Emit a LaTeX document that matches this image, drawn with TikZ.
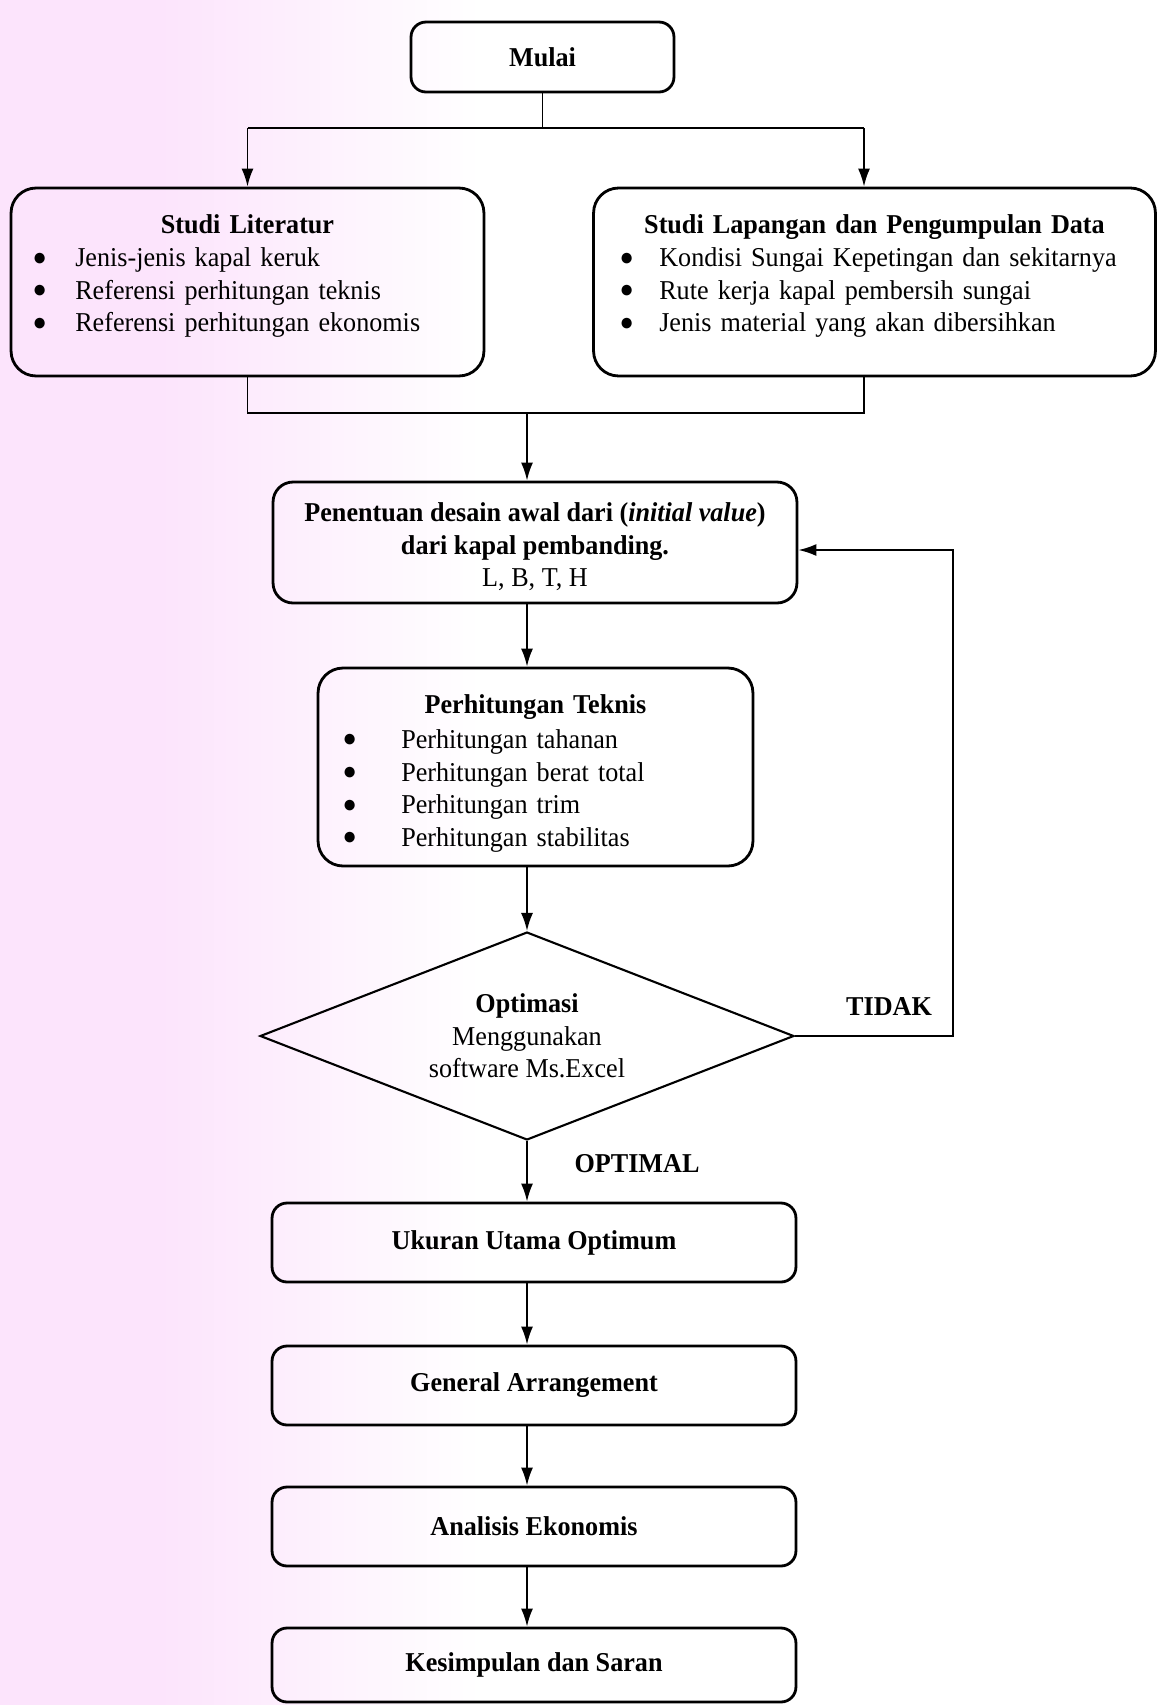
\documentclass[tikz,border=0pt]{standalone}
\usepackage{fontspec}
\setmainfont{Liberation Serif}[FakeStretch=0.96]
\usetikzlibrary{shapes.geometric,arrows.meta}
\definecolor{pinkbg}{RGB}{252,228,252}
\newcommand{\judul}[1]{\makebox[\linewidth]{\bfseries #1}}
\newcommand{\butir}[3]{\hspace*{#1}{\fontsize{14}{14}\selectfont\raisebox{0.06em}{●}}\hspace{#2}#3}
\begin{document}
\begin{tikzpicture}[x=0.02cm, y=-0.02cm, line width=1.1pt,
	font=\fontsize{15.5}{18.6}\selectfont,
	kotak/.style={draw, line width=1.6pt, rounded corners=0.3cm, inner sep=0pt, align=center, minimum width=10.48cm, minimum height=1.58cm},
	kotakbesar/.style={kotak, rounded corners=0.5cm, align=left, minimum width=0pt},
	putusan/.style={draw, diamond, line width=1.2pt, inner sep=0pt, aspect=2.57, minimum width=10.68cm, minimum height=4.16cm, align=center},
	panah/.style={-{Latex[length=0.36cm, width=0.24cm]}},
	keterangan/.style={font=\fontsize{15.5}{18.6}\selectfont\bfseries}]
	\useasboundingbox (0,0) rectangle (1158,1705);
	\fill[white] (0,0) rectangle (1158,1705);
	\fill[pinkbg] (0,0) rectangle (160,1705);
	\shade[left color=pinkbg, right color=white] (160,0) rectangle (480,1705);

	\node[kotak, minimum width=5.26cm, minimum height=1.4cm] (mulai) at (542.5,57) {\textbf{Mulai}};
	\node[kotakbesar, text width=9.46cm, minimum height=3.76cm] (lit) at (247.5,282) {\judul{Studi Literatur}\\
		\butir{0.43cm}{0.57cm}{Jenis-jenis kapal keruk}\\
		\butir{0.43cm}{0.57cm}{Referensi perhitungan teknis}\\
		\butir{0.43cm}{0.57cm}{Referensi perhitungan ekonomis}\rule[-0.34cm]{0pt}{0.1cm}};
	\node[kotakbesar, text width=11.24cm, minimum height=3.76cm] (lap) at (874.5,282) {\judul{Studi Lapangan dan Pengumpulan Data}\\
		\butir{0.52cm}{0.51cm}{Kondisi Sungai Kepetingan dan sekitarnya}\\
		\butir{0.52cm}{0.51cm}{Rute kerja kapal pembersih sungai}\\
		\butir{0.52cm}{0.51cm}{Jenis material yang akan dibersihkan}\rule[-0.34cm]{0pt}{0.1cm}};
	\node[kotak, rounded corners=0.4cm, minimum height=2.42cm] (awal) at (535,542.5) {\rule{0pt}{0.55cm}\textbf{Penentuan desain awal dari (\textit{initial value})}\\\textbf{dari kapal pembanding.}\\L, B, T, H};
	\node[kotakbesar, text width=8.7cm, minimum height=3.96cm] (teknis) at (535.5,767) {\judul{\rule{0pt}{0.64cm}Perhitungan Teknis}\\[0.04cm]
		\butir{0.49cm}{0.89cm}{Perhitungan tahanan}\\
		\butir{0.49cm}{0.89cm}{Perhitungan berat total}\\
		\butir{0.49cm}{0.89cm}{Perhitungan trim}\\
		\butir{0.49cm}{0.89cm}{Perhitungan stabilitas}};
	\node[putusan] (opt) at (527,1036) {\textbf{Optimasi}\\Menggunakan\\software Ms.Excel};
	\node[kotak] (ukuran) at (534,1242.5) {\textbf{Ukuran Utama Optimum}};
	\node[kotak] (ga) at (534,1385.5) {\textbf{General Arrangement}};
	\node[kotak] (ekon) at (534,1526.5) {\textbf{Analisis Ekonomis}};
	\node[kotak, minimum height=1.48cm] (simpul) at (534,1665) {\textbf{Kesimpulan dan Saran}};

	\node[keterangan] (tidak) at (889,1007) {TIDAK};
	\node[keterangan] (optimal) at (637,1164) {OPTIMAL};

	\coordinate (cabang) at (0,128);
	\coordinate (gabung) at (0,413);
	\coordinate (kanan) at (864,0);
	\coordinate (balik) at (953,550);

	\draw (mulai.south) -- (mulai.south |- cabang);
	\draw (lit.north |- cabang) -- (kanan |- cabang);
	\draw[panah] (lit.north |- cabang) -- (lit.north);
	\draw[panah] (kanan |- cabang) -- (kanan |- lap.north);
	\draw (lit.south) -- (lit.south |- gabung) -- (kanan |- gabung) -- (kanan |- lap.south);
	\draw[panah] (opt.north |- gabung) -- (awal.north -| opt.north);
	\foreach \a/\b in {awal/teknis,teknis/opt,opt/ukuran,ukuran/ga,ga/ekon,ekon/simpul}
		\draw[panah] (\a.south -| opt.north) -- (\b.north -| opt.north);
	\draw[panah] (opt.east) -| (balik) -- (awal.east |- balik);
\end{tikzpicture}
\end{document}
